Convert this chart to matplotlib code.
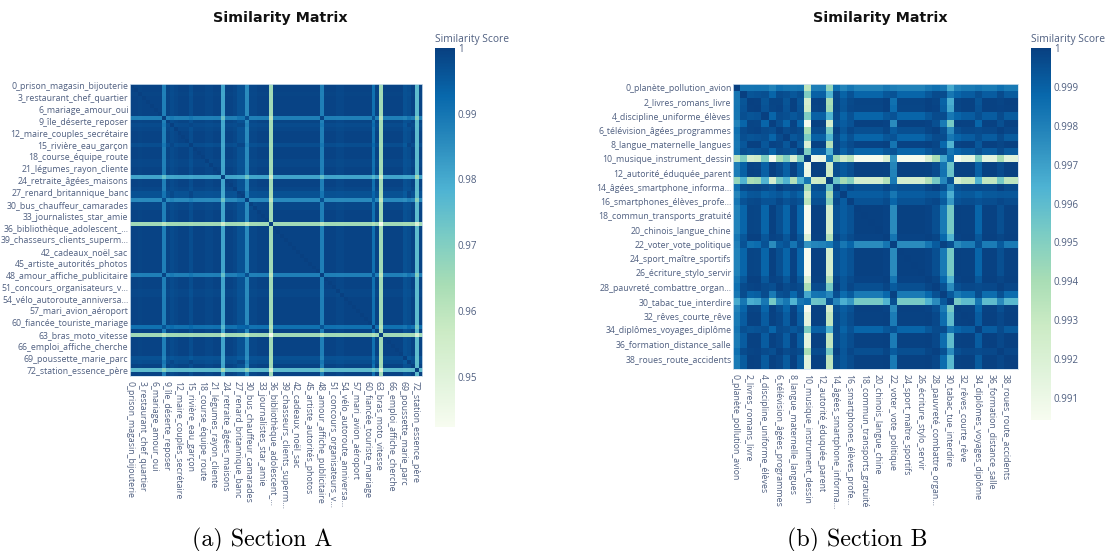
import matplotlib
matplotlib.use("Agg")
import matplotlib.pyplot as plt
from matplotlib.transforms import ScaledTranslation
import numpy as np

W = 1108
H = 551

labels_a = ["0_prison_magasin_bijouterie", "3_restaurant_chef_quartier", "6_mariage_amour_oui",
            "9_île_déserte_reposer", "12_maire_couples_secrétaire", "15_rivière_eau_garçon",
            "18_course_équipe_route", "21_légumes_rayon_cliente", "24_retraite_âgées_maisons",
            "27_renard_britannique_banc", "30_bus_chauffeur_camarades", "33_journalistes_star_amie",
            "36_bibliothèque_adolescent_...", "39_chasseurs_clients_superm...", "42_cadeaux_noël_sac",
            "45_artiste_autorités_photos", "48_amour_affiche_publicitaire", "51_concours_organisateurs_v...",
            "54_vélo_autoroute_anniversa...", "57_mari_avion_aéroport", "60_fiancée_touriste_mariage",
            "63_bras_moto_vitesse", "66_emploi_affiche_cherche", "69_poussette_marie_parc",
            "72_station_essence_père"]
labels_b = ["0_planète_pollution_avion", "2_livres_romans_livre", "4_discipline_uniforme_élèves",
            "6_télévision_âgées_programmes", "8_langue_maternelle_langues", "10_musique_instrument_dessin",
            "12_autorité_éduquée_parent", "14_âgées_smartphone_informa...", "16_smartphones_élèves_profe...",
            "18_commun_transports_gratuité", "20_chinois_langue_chine", "22_voter_vote_politique",
            "24_sport_maître_sportifs", "26_écriture_stylo_servir", "28_pauvreté_combattre_organ...",
            "30_tabac_tue_interdire", "32_rêves_courte_rêve", "34_diplômes_voyages_diplôme",
            "36_formation_distance_salle", "38_roues_route_accidents"]

# the cells are too many to read one by one, so each topic gets its distance
# from the main block, read off its row/column in the picture

# section A: how far each topic sits from the main block
dist_a = [.0005, .0005, .0008, .0005, .0005, .0005, .0005, .0005, .012, .0008,
          .002, .0012, .0005, .0005, .0005, .0025, .0005, .0005, .0005, .0012,
          .0012, .0005, .0005, .019, .0005, .0005, .0012, .003, .003, .014,
          .0012, .0012, .0005, .0005, .0005, .035, .0005, .0005, .0005, .0005,
          .0005, .0005, .0005, .0005, .0005, .0005, .0005, .0005, .012, .0005,
          .0005, .0005, .0012, .0012, .0005, .0005, .0005, .0005, .0005, .0005,
          .0005, .009, .0005, .035, .0005, .0005, .0005, .0005, .0005, .003,
          .0025, .0005, .024, .0005]
# topics in this list are close to each other
close_a = [8, 10, 15, 27, 28, 29, 48, 61, 70]

# section B: position of each topic along two directions, plus an own offset
pos_u_b = [.025, .03, .01, .012, .03, 0, .02, .03, .008, .03,
           .095, .002, .003, .085, .022, .015, .018, 0, 0, 0,
           0, .008, .048, 0, 0, 0, 0, .008, .02, .042,
           .068, 0, .005, .005, .03, .005, .005, .02, .006, .006]
pos_v_b = [0, 0, 0, 0, 0, 0, 0, 0, 0, 0,
           -.02, 0, 0, .02, 0, 0, 0, 0, 0, 0,
           0, 0, 0, 0, 0, 0, 0, 0, 0, 0,
           .005, 0, 0, 0, 0, 0, 0, 0, 0, 0]
own_b = [.0014, .0002, 0, 0, .0002, 0, 0, .0002, 0, .0002,
         0, 0, 0, 0, 0, .0006, .0002, 0, 0, 0,
         0, 0, 0, 0, 0, 0, 0, 0, 0, 0,
         0, 0, 0, 0, .0002, 0, 0, 0, 0, 0]

ticks_a = [.95, .96, .97, .98, .99, 1]
ticks_b = [.991, .992, .993, .994, .995, .996, .997, .998, .999, 1]
tick_text_a = ["0.95", "0.96", "0.97", "0.98", "0.99", "1"]
tick_text_b = ["0.991", "0.992", "0.993", "0.994", "0.995", "0.996", "0.997", "0.998", "0.999", "1"]

TEXT = "#4f5f80"
TICK_FONT = "Open Sans"


def px_axes(x0, y0, x1, y1):
    return fig.add_axes([x0 / W, 1 - y1 / H, (x1 - x0) / W, (y1 - y0) / H])


def px_text(x, y, s, **kw):
    fig.text(x / W, 1 - y / H, s, ha=kw.pop("ha", "center"), va=kw.pop("va", "center"), **kw)


def matrix_a():
    d = np.array(dist_a)
    m = 1 - (d[:, None] ** 1.4 + d[None, :] ** 1.4) ** (1 / 1.4)
    for i in close_a:
        for j in close_a:
            m[i, j] = 1 - abs(d[i] - d[j]) - .001
    np.fill_diagonal(m, 1)
    return m


def matrix_b():
    u = np.array(pos_u_b)
    v = np.array(pos_v_b)
    t = np.array(own_b)
    m = 1 - (u[:, None] - u[None, :]) ** 2 - (v[:, None] - v[None, :]) ** 2 - t[:, None] - t[None, :] - .00005
    np.fill_diagonal(m, 1)
    return m


def heatmap(box, cbar_box, m, step, labels, vmin, ticks, tick_text, title_x, caption, caption_x):
    ax = px_axes(*box)
    im = ax.imshow(m, cmap="GnBu", vmin=vmin, vmax=1, aspect="auto", interpolation="nearest")
    pos = np.arange(len(labels)) * step
    ax.set_xticks(pos)
    ax.set_xticklabels(labels, rotation=-90, fontsize=6.3, color=TEXT, family=TICK_FONT, ha="center", va="top")
    ax.set_yticks(pos)
    ax.set_yticklabels(labels, fontsize=6.3, color=TEXT, family=TICK_FONT)
    ax.tick_params(length=0, pad=1)
    ax.tick_params(axis="x", pad=3.5)
    shift = ScaledTranslation(-1.5 / 100, 0, fig.dpi_scale_trans)
    for t in ax.get_xticklabels():
        t.set_transform(t.get_transform() + shift)
    for s in ax.spines.values():
        s.set_color("#cfe0ee")
        s.set_linewidth(0.6)

    cax = px_axes(*cbar_box)
    cb = fig.colorbar(im, cax=cax)
    cb.outline.set_visible(False)
    cb.set_ticks(ticks)
    cb.set_ticklabels(tick_text)
    cax.tick_params(length=0, pad=2, labelsize=7, labelcolor=TEXT)
    for t in cax.get_yticklabels():
        t.set_family(TICK_FONT)
    px_text(cbar_box[0], 39.5, "Similarity Score", ha="left", fontsize=7.4, color=TEXT, family=TICK_FONT)

    px_text(title_x, 18, "Similarity Matrix", fontsize=10.3, fontweight="bold", color="#111111", family="DejaVu Sans")
    px_text(caption_x, 540, caption, fontsize=17.2, color="black", family="cmr10")


fig = plt.figure(figsize=(W / 100, H / 100), dpi=100)
heatmap((130, 84, 422, 376), (435, 48, 455, 426.7), matrix_a(), 3, labels_a, .9424, ticks_a, tick_text_a,
        280.6, "(a) Section A", 262)
heatmap((733, 84, 1018, 369), (1031, 48, 1051, 419.7), matrix_b(), 2, labels_b, .99044, ticks_b, tick_text_b,
        880.6, "(b) Section B", 857.6)
fig.savefig("out.png", dpi=100)
